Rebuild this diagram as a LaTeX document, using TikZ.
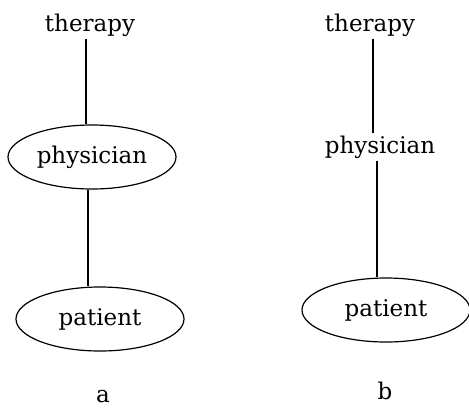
\documentclass[tikz,border=0pt]{standalone}
\usepackage{fontspec}
\setmainfont{DejaVu Serif}
\usetikzlibrary{shapes.geometric}
\begin{document}
\begin{tikzpicture}[x=0.5pt, y=-0.5pt, line width=0.6pt, wordStyle/.style={inner sep=1pt, font=\fontsize{11.5}{13}\selectfont}, ovalStyle/.style={ellipse, draw, inner sep=0pt, minimum width=84pt, minimum height=32pt, font=\fontsize{11.5}{13}\selectfont}, tagStyle/.style={inner sep=0pt, font=\fontsize{11.5}{13}\selectfont}]
                    \useasboundingbox (0,0) rectangle (469,417);

                    % a
                    \node[wordStyle] (a_therapy)   at ( 90,  25) {therapy};
                    \node[ovalStyle] (a_physician) at ( 92, 157) {physician};
                    \node[ovalStyle] (a_patient)   at (100, 319) {patient};
                    \node[tagStyle]  (a_tag)       at (103, 397) {a};

                    % b
                    \node[wordStyle] (b_therapy)   at (370,  25) {therapy};
                    \node[wordStyle] (b_physician) at (380, 147) {physician};
                    \node[ovalStyle] (b_patient)   at (386, 310) {patient};
                    \node[tagStyle]  (b_tag)       at (385, 391) {b};

                    \draw ([xshift=-2pt]a_therapy.south) -- ([xshift=-2pt]a_therapy.south |- a_physician.north);
                    \draw ([xshift=-2pt]a_physician.south) -- ([xshift=-2pt]a_physician.south |- a_patient.north);
                    \draw ([xshift=1.5pt]b_therapy.south) -- ([xshift=1.5pt]b_therapy.south |- b_physician.north);
                    \draw ([xshift=-1.5pt]b_physician.south) -- ([xshift=-1.5pt]b_physician.south |- b_patient.north);
                \end{tikzpicture}
\end{document}
